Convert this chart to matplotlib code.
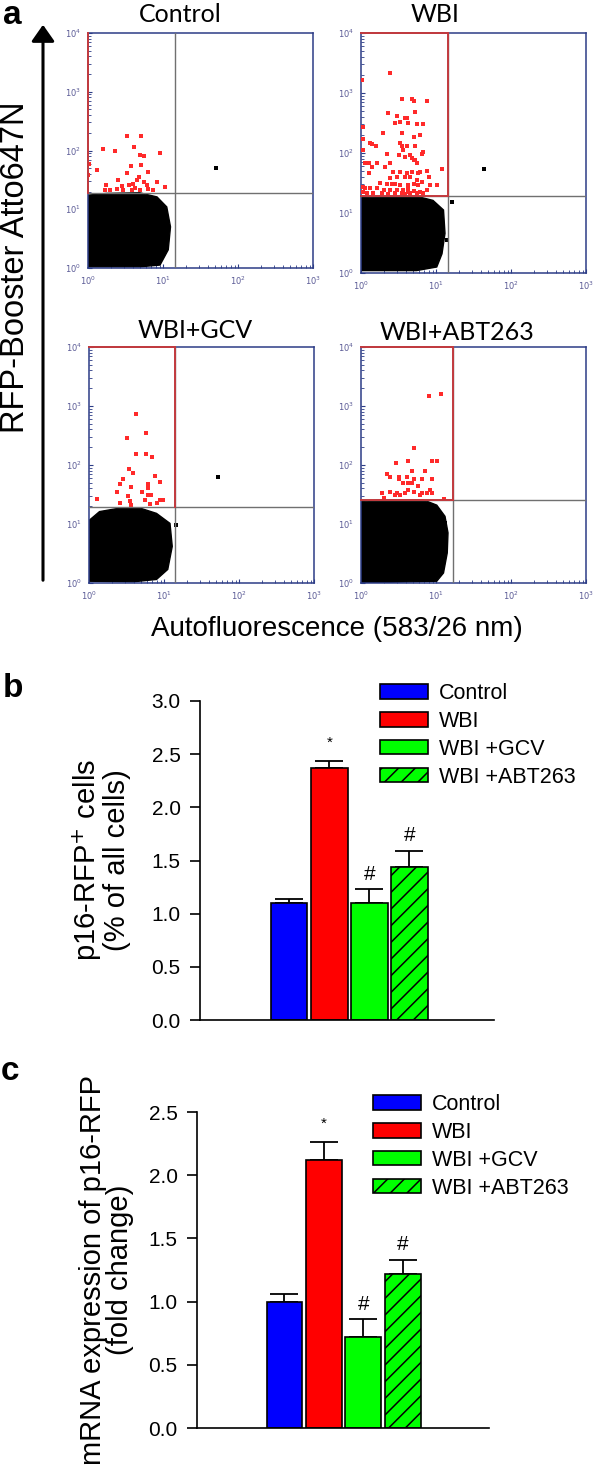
import numpy as np
import matplotlib
matplotlib.use("Agg")
import matplotlib.pyplot as plt
from matplotlib.patches import Polygon, FancyArrowPatch
from matplotlib.ticker import LogLocator, NullFormatter, MultipleLocator, FormatStrFormatter

# ---------------- panel a: flow cytometry dot plots (log10 units) ----------------
scatter_titles = ["Control", "WBI", "WBI+GCV", "WBI+ABT263"]
scatter_percents = ["0.78%", "2.74%", "1.13%", "0.91%"]
gate_lx = [1.16, 1.16, 1.15, 1.22]
gate_ly = [1.28, 1.29, 1.28, 1.41]
gate_red_edges = [["left"], ["top", "right", "bottom"], ["top", "right"], ["top", "right", "bottom"]]

# outline of the dense black population (log10 x, log10 y)
ctrl_cloud = [(0.0, 0.02), (0.0, 1.24), (0.25, 1.27), (0.69, 1.28), (0.92, 1.21), (1.05, 1.04),
              (1.10, 0.70), (1.07, 0.31), (0.96, 0.05), (0.69, 0.02)]
wbi_cloud = [(0.01, 0.04), (0.01, 1.26), (0.30, 1.27), (0.74, 1.28), (0.96, 1.21), (1.10, 1.05),
             (1.12, 0.66), (1.08, 0.32), (1.01, 0.10), (0.74, 0.04)]
gcv_cloud = [(0.01, 0.03), (0.01, 1.07), (0.14, 1.21), (0.41, 1.27), (0.68, 1.27), (0.90, 1.18),
             (1.08, 1.01), (1.11, 0.62), (1.05, 0.23), (0.90, 0.06), (0.59, 0.02)]
abt_cloud = [(0.0, 0.0), (0.0, 1.38), (0.30, 1.41), (0.83, 1.41), (1.01, 1.32), (1.12, 1.13),
             (1.16, 0.85), (1.15, 0.51), (1.10, 0.17), (1.01, 0.03)]

# gated (red) events
ctrl_red = [(0.52, 2.25), (0.71, 2.25), (0.20, 2.03), (0.36, 1.99), (0.61, 2.06), (0.69, 1.92),
            (0.74, 1.90), (0.96, 1.95), (0.12, 1.67), (0.01, 1.77), (0.00, 1.58), (0.71, 1.75),
            (0.57, 1.74), (0.52, 1.61), (0.40, 1.50), (0.80, 1.63), (0.68, 1.55), (0.65, 1.50),
            (0.74, 1.47), (0.60, 1.43), (0.54, 1.41), (0.45, 1.40), (0.78, 1.41), (0.92, 1.47),
            (1.03, 1.38), (0.24, 1.41), (0.29, 1.32), (0.23, 1.32), (0.63, 1.36), (0.69, 1.32),
            (0.80, 1.34), (0.87, 1.32), (0.58, 1.32), (0.47, 1.32), (0.38, 1.35)]
wbi_red = [(0.38, 3.33), (0.36, 2.67), (0.54, 2.90), (0.68, 2.90), (0.70, 2.86), (0.88, 2.86),
           (0.48, 2.61), (0.59, 2.58), (0.61, 2.58), (0.45, 2.50), (0.52, 2.52), (0.72, 2.69),
           (0.74, 2.48), (0.83, 2.48), (0.63, 2.50), (0.29, 2.33), (0.54, 2.33), (0.70, 2.27),
           (0.79, 2.30), (0.12, 2.16), (0.14, 2.15), (0.20, 2.12), (0.03, 2.23), (0.52, 2.16),
           (0.54, 2.11), (0.56, 2.05), (0.61, 2.11), (0.72, 2.11), (0.83, 2.01), (0.81, 1.98),
           (0.34, 1.98), (0.50, 1.97), (0.59, 1.94), (0.65, 1.97), (0.68, 1.91), (0.72, 1.88),
           (0.74, 1.83), (0.70, 1.89), (0.05, 1.83), (0.10, 1.83), (0.14, 1.77), (0.21, 1.83),
           (0.32, 1.77), (0.39, 1.83), (0.43, 1.69), (0.52, 1.69), (0.61, 1.66), (0.68, 1.69),
           (0.76, 1.66), (0.78, 1.69), (0.88, 1.70), (1.08, 1.74), (0.10, 1.66), (0.39, 1.58),
           (0.48, 1.60), (0.59, 1.60), (0.65, 1.60), (0.74, 1.55), (0.81, 1.52), (0.90, 1.60),
           (0.25, 1.50), (0.34, 1.49), (0.41, 1.49), (0.45, 1.48), (0.52, 1.47), (0.63, 1.47),
           (0.70, 1.49), (0.76, 1.47), (0.92, 1.47), (1.01, 1.47), (0.05, 1.41), (0.12, 1.41),
           (0.21, 1.41), (0.30, 1.38), (0.39, 1.39), (0.48, 1.38), (0.56, 1.38), (0.63, 1.35),
           (0.70, 1.37), (0.79, 1.35), (0.88, 1.38), (0.03, 1.35), (0.08, 1.34), (0.16, 1.33),
           (0.28, 1.33), (0.36, 1.31), (0.45, 1.33), (0.54, 1.34), (0.65, 1.33), (0.74, 1.33),
           (0.83, 1.33), (0.59, 1.31), (0.63, 1.41), (0.02, 1.44), (0.02, 2.05), (0.02, 2.44),
           (0.01, 3.22)]
gcv_red = [(0.63, 2.86), (0.51, 2.45), (0.76, 2.54), (0.63, 2.19), (0.76, 2.19), (0.84, 2.13),
           (0.53, 1.93), (0.58, 1.86), (0.45, 1.77), (0.88, 1.81), (0.41, 1.68), (0.56, 1.62),
           (0.79, 1.68), (0.79, 1.61), (0.94, 1.71), (0.37, 1.55), (0.70, 1.55), (0.79, 1.49),
           (0.83, 1.49), (0.52, 1.48), (0.94, 1.40), (0.99, 1.40), (0.10, 1.43), (0.41, 1.36),
           (0.54, 1.39), (0.74, 1.41), (0.56, 1.32), (0.81, 1.34), (0.90, 1.35)]
abt_red = [(0.91, 3.17), (1.07, 3.20), (0.70, 2.28), (0.47, 2.03), (0.63, 2.06), (0.94, 2.07),
           (1.01, 2.07), (0.68, 1.89), (0.85, 1.90), (0.34, 1.84), (0.39, 1.79), (0.50, 1.80),
           (0.51, 1.76), (0.61, 1.80), (0.70, 1.77), (0.94, 1.77), (0.56, 1.69), (0.63, 1.70),
           (0.68, 1.69), (0.81, 1.76), (0.76, 1.65), (0.28, 1.53), (0.39, 1.55), (0.48, 1.52),
           (0.52, 1.49), (0.59, 1.52), (0.63, 1.58), (0.70, 1.55), (0.81, 1.53), (0.88, 1.53),
           (0.92, 1.57), (0.94, 1.52), (0.45, 1.49), (0.79, 1.49), (1.10, 1.43), (0.30, 1.44)]

# stray black events outside the main population
ctrl_black = [(1.71, 1.71)]
wbi_black = [(1.64, 1.73), (1.21, 1.18), (1.14, 0.55)]
gcv_black = [(1.72, 1.80), (1.16, 0.99)]
abt_black = [(1.12, 1.02)]

clouds = [ctrl_cloud, wbi_cloud, gcv_cloud, abt_cloud]
red_events = [ctrl_red, wbi_red, gcv_red, abt_red]
black_events = [ctrl_black, wbi_black, gcv_black, abt_black]

# ---------------- panels b and c: bar charts ----------------
groups = ["Control", "WBI", "WBI +GCV", "WBI +ABT263"]
bar_colors = ["#0000ff", "#ff0000", "#00ff00", "#00ff00"]
bar_hatches = [None, None, None, "//"]
rfp_cells = [1.10, 2.37, 1.10, 1.44]
rfp_cells_err = [0.04, 0.07, 0.13, 0.15]
mrna_fold = [1.00, 2.12, 0.72, 1.22]
mrna_fold_err = [0.06, 0.14, 0.14, 0.11]
sig_marks = ["", "*", "#", "#"]

# ---------------- figure ----------------
W, H = 597, 1471
fig = plt.figure(figsize=(W / 100, H / 100), dpi=100)
plt.rcParams["hatch.linewidth"] = 1.1
sans = "Liberation Sans"
cal = "Lato"


def px_axes(left, top, right, bottom):
    return fig.add_axes([left / W, 1 - bottom / H, (right - left) / W, (bottom - top) / H])


overlay = fig.add_axes([0, 0, 1, 1], zorder=-1)
overlay.set_xlim(0, W)
overlay.set_ylim(H, 0)
overlay.axis("off")

navy = "#2c3c86"
gate_red = "#c33a3e"
a_boxes = [(88, 33, 313, 268), (361, 33, 586, 273), (89, 347, 314, 583), (361, 347, 586, 583)]
title_pos = [(180, 14), (435, 14), (195, 330), (457, 332)]
pct_pos = [(134, 46), (408, 45), (134, 362), (409, 362)]

for i, box in enumerate(a_boxes):
    ax = px_axes(*box)
    ax.set_xscale("log")
    ax.set_yscale("log")
    ax.set_xlim(1, 1000)
    ax.set_ylim(1, 10000)

    cloud = 10 ** np.array(clouds[i])
    ax.add_patch(Polygon(cloud, closed=True, fc="black", ec="black", lw=1.0, zorder=2))
    red = np.array(red_events[i])
    ax.scatter(10 ** red[:, 0], 10 ** red[:, 1], s=5, c="#ff2a2a", marker="s", lw=0, zorder=3)
    blk = np.array(black_events[i])
    ax.scatter(10 ** blk[:, 0], 10 ** blk[:, 1], s=5, c="black", marker="s", lw=0, zorder=3)

    gx, gy = 10 ** gate_lx[i], 10 ** gate_ly[i]
    ax.axhline(gy, color="#707070", lw=1.0, zorder=4)
    ax.axvline(gx, color="#707070", lw=1.0, zorder=4)
    edges = {"left": ([1, 1], [gy, 10000]), "top": ([1, gx], [10000, 10000]),
             "right": ([gx, gx], [gy, 10000]), "bottom": ([1, gx], [gy, gy])}
    for e in gate_red_edges[i]:
        ax.plot(*edges[e], color=gate_red, lw=1.4, zorder=5, clip_on=False)

    for sp in ax.spines.values():
        sp.set_color(navy)
        sp.set_linewidth(1.1)
    ax.xaxis.set_major_locator(LogLocator(base=10, numticks=10))
    ax.yaxis.set_major_locator(LogLocator(base=10, numticks=10))
    ax.xaxis.set_minor_locator(LogLocator(base=10, subs=range(2, 10), numticks=10))
    ax.yaxis.set_minor_locator(LogLocator(base=10, subs=range(2, 10), numticks=10))
    ax.xaxis.set_minor_formatter(NullFormatter())
    ax.yaxis.set_minor_formatter(NullFormatter())
    ax.tick_params(which="major", direction="in", length=3, width=0.8, color=navy,
                   labelsize=6, labelcolor="#5b5b96", pad=5)
    ax.tick_params(which="minor", direction="in", length=2, width=0.6, color=navy)

    overlay.text(*title_pos[i], scatter_titles[i], family=cal, fontsize=18,
                 ha="center", va="center")
    overlay.text(*pct_pos[i], scatter_percents[i], family=cal, fontsize=15,
                 color="#e8262b", ha="center", va="center", zorder=10)

# arrow + axis titles for panel a
overlay.add_patch(FancyArrowPatch((43, 583), (43, 22), arrowstyle="-|>,head_length=0.5,head_width=0.35",
                                  mutation_scale=20, lw=2.2, color="black"))
overlay.text(16, 267, "RFP-Booster Atto647N", family=sans, fontsize=23.5, rotation=90,
             ha="center", va="center")
overlay.text(337, 629, "Autofluorescence (583/26 nm)", family=sans, fontsize=20,
             ha="center", va="center")

for lab, (x, y) in zip(["a", "b", "c"], [(12, 15), (13, 688), (10, 1072)]):
    overlay.text(x, y, lab, family=sans, fontsize=24, fontweight="bold", ha="center", va="center")

# bar panels
x_pos = np.arange(len(groups))


def bar_panel(box, values, errs, ymax, ylabel, label_right, xlim, legend_top, legend_left):
    ax = px_axes(*box)
    bars = ax.bar(x_pos, values, width=0.91, color=bar_colors, edgecolor="black", lw=1.2,
                  zorder=2)
    for b, h in zip(bars, bar_hatches):
        if h:
            b.set_hatch(h)
    ax.errorbar(x_pos, values, yerr=[np.zeros(len(errs)), errs], fmt="none", ecolor="black",
                elinewidth=1.3, capsize=10, capthick=1.3, zorder=1)
    for xp, v, e, m in zip(x_pos, values, errs, sig_marks):
        if m:
            ax.annotate(m, (xp, v + e), xytext=(0, 4 if m == "#" else 8), textcoords="offset points",
                        ha="center", va="bottom", family=sans, fontsize=15 if m == "#" else 11)
    ax.set_xlim(*xlim)
    ax.set_ylim(0, ymax)
    ax.yaxis.set_major_locator(MultipleLocator(0.5))
    ax.yaxis.set_major_formatter(FormatStrFormatter("%.1f"))
    ax.set_xticks([])
    for s in ["top", "right"]:
        ax.spines[s].set_visible(False)
    for s in ["left", "bottom"]:
        ax.spines[s].set_linewidth(1.2)
    ax.tick_params(axis="y", direction="out", length=7, width=1.2, pad=7, labelsize=15)
    for t in ax.get_yticklabels():
        t.set_family(sans)
    ax.set_ylabel(ylabel, family=sans, fontsize=21, linespacing=0.95)
    ax.yaxis.set_label_coords((label_right - box[0]) / (box[2] - box[0]), 0.5)
    ax.legend(bars, groups, loc="upper left", bbox_to_anchor=(legend_left / W, 1 - legend_top / H),
              bbox_transform=fig.transFigure, frameon=False, borderpad=0, borderaxespad=0,
              handlelength=2.23, handleheight=0.65, handletextpad=0.5, labelspacing=0.32,
              prop={"family": sans, "size": 15.5})
    return ax


bar_panel((200, 701, 494, 1020), rfp_cells, rfp_cells_err, 3.0,
          "p16-RFP$^{+}$ cells\n(% of all cells)", 131, (-2.225, 5.11), 683, 380)
bar_panel((197, 1112, 489, 1428), mrna_fold, mrna_fold_err, 2.5,
          "mRNA expression of p16-RFP\n(fold change)", 134, (-2.22, 5.19), 1094, 373)

fig.savefig("out.png", dpi=100)
